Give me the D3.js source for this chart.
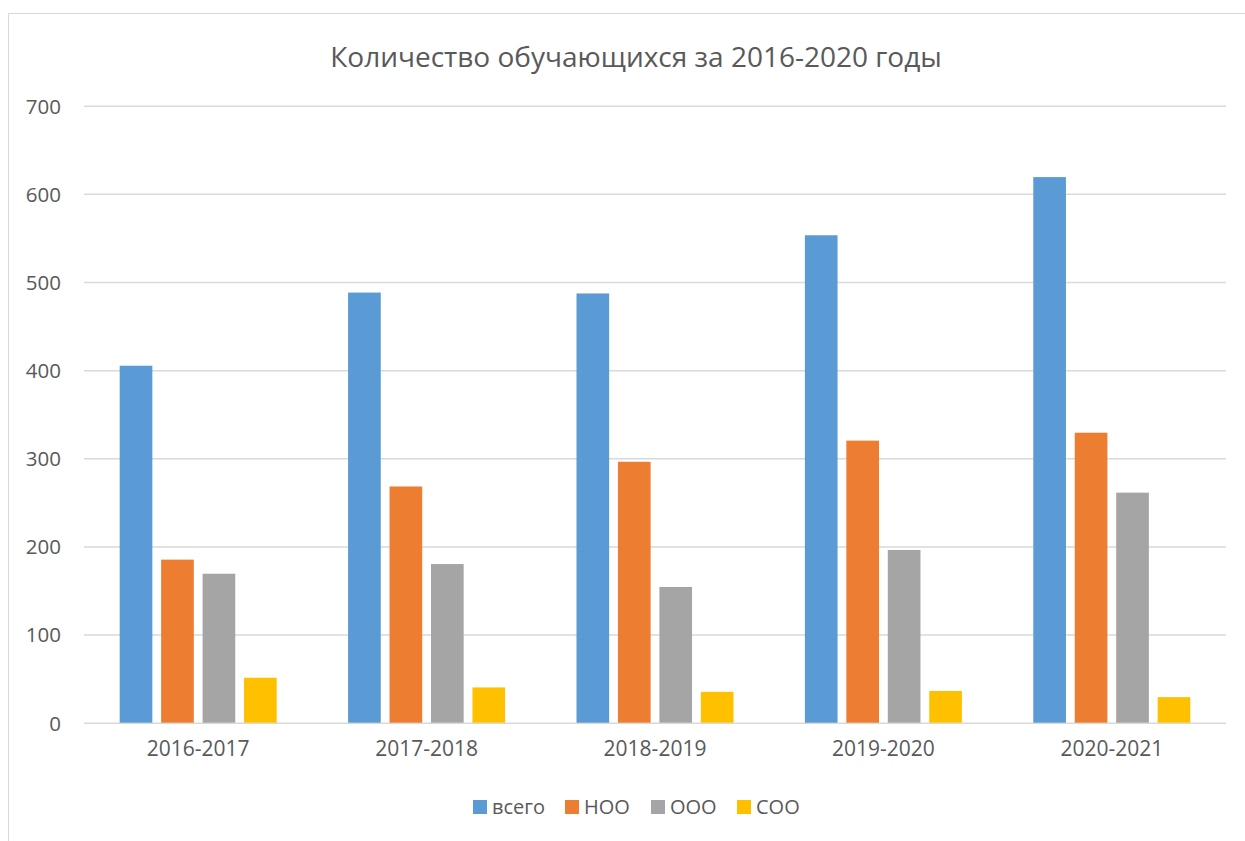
<!DOCTYPE html>
<html>
<head>
<meta charset="utf-8">
<script src="https://cdn.jsdelivr.net/npm/d3@7"></script>
<style>
  body { margin: 0; background: #fff; }
  text { font-family: "Open Sans", "Noto Sans", sans-serif; fill: #595959; }
</style>
</head>
<body>
<div id="chart"></div>
<script>
// данные
const years = ["2016-2017", "2017-2018", "2018-2019", "2019-2020", "2020-2021"];
const seriesNames = ["всего", "НОО", "ООО", "СОО"];
const vsego = [405, 488, 487, 553, 619];
const noo = [185, 268, 296, 320, 329];
const ooo = [169, 180, 154, 196, 261];
const soo = [51, 40, 35, 36, 29];
const yTicks = [0, 100, 200, 300, 400, 500, 600, 700];
const colors = ["#5B9BD5", "#ED7D31", "#A5A5A5", "#FFC000"];

const seriesValues = [vsego, noo, ooo, soo];
const data = years.map((y, i) => ({
  year: y,
  values: seriesNames.map((s, j) => ({ key: s, value: seriesValues[j][i] }))
}));

const W = 1245, H = 841;
const plot = { left: 84, right: 1226, top: 105.7, bottom: 722.7 };

const svg = d3.select("#chart").append("svg")
  .attr("width", W)
  .attr("height", H);

// рамка диаграммы
svg.append("rect")
  .attr("x", 8.5).attr("y", 13.5)
  .attr("width", 1260).attr("height", 840)
  .attr("fill", "#fff")
  .attr("stroke", "#D9D9D9")
  .attr("stroke-width", 1);

svg.append("text")
  .attr("x", 636)
  .attr("y", 67)
  .attr("text-anchor", "middle")
  .style("font-size", "28px")
  .text("Количество обучающихся за 2016-2020 годы");

// шкалы
const x0 = d3.scaleBand()
  .domain(years)
  .range([plot.left, plot.right])
  .paddingInner(0.3125)
  .paddingOuter(0.15625);

const x1 = d3.scaleBand()
  .domain(seriesNames)
  .range([0, x0.bandwidth()])
  .paddingInner(0.212);

const y = d3.scaleLinear()
  .domain([0, 700])
  .range([plot.bottom, plot.top]);

const color = d3.scaleOrdinal().domain(seriesNames).range(colors);

// сетка
const yAxis = svg.append("g")
  .attr("transform", `translate(${plot.left},0)`)
  .call(d3.axisLeft(y).tickValues(yTicks).tickSize(-(plot.right - plot.left)).tickPadding(23));
yAxis.select(".domain").remove();
yAxis.selectAll(".tick line").attr("stroke", "#D9D9D9").attr("stroke-width", 1.5);
yAxis.selectAll(".tick text")
  .style("font-size", "20.5px")
  .attr("fill", "#595959")
  .attr("dy", "0.36em");

// столбцы
const groups = svg.append("g").selectAll("g")
  .data(data)
  .enter().append("g")
  .attr("transform", d => `translate(${x0(d.year)},0)`);

groups.selectAll("rect")
  .data(d => d.values)
  .enter().append("rect")
  .attr("x", d => x1(d.key))
  .attr("y", d => y(d.value))
  .attr("width", x1.bandwidth())
  .attr("height", d => y(0) - y(d.value))
  .attr("fill", d => color(d.key));

// подписи категорий
const xAxis = svg.append("g")
  .attr("transform", `translate(0,${plot.bottom})`)
  .call(d3.axisBottom(x0).tickSize(0).tickPadding(18));
xAxis.select(".domain").remove();
xAxis.selectAll(".tick text")
  .style("font-size", "21px")
  .attr("fill", "#595959");

// легенда
const legendX = [473, 565, 651, 737];
const legend = svg.append("g").selectAll("g")
  .data(seriesNames)
  .enter().append("g")
  .attr("transform", (d, i) => `translate(${legendX[i]},800)`);

legend.append("rect")
  .attr("width", 14)
  .attr("height", 14)
  .attr("fill", color);

legend.append("text")
  .attr("x", 19)
  .attr("y", 14)
  .style("font-size", "20px")
  .text(d => d);
</script>
</body>
</html>
